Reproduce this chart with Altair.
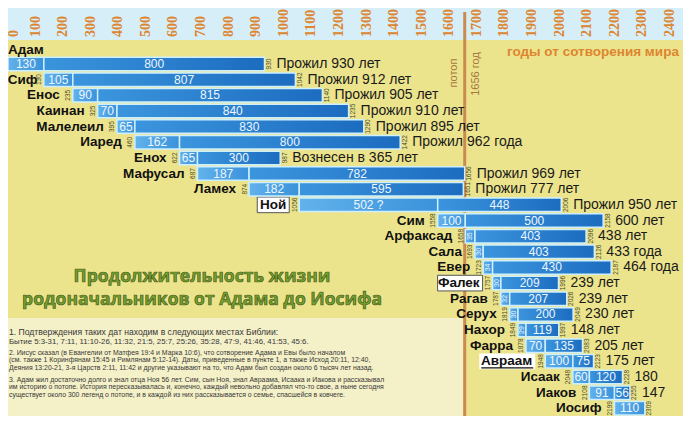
import altair as alt
import pandas as pd

# ---------------- data ----------------
names = ["Адам", "Сиф", "Енос", "Каинан", "Малелеил", "Иаред", "Енох", "Мафусал",
         "Ламех", "Ной", "Сим", "Арфаксад", "Сала", "Евер", "Фалек", "Рагав",
         "Серух", "Нахор", "Фарра", "Авраам", "Исаак", "Иаков", "Иосиф"]
births = [0, 130, 235, 325, 395, 460, 622, 687, 874, 1056, 1558, 1658, 1693,
          1723, 1757, 1787, 1819, 1849, 1878, 1948, 2048, 2108, 2199]
first_years = [130, 105, 90, 70, 65, 162, 65, 187, 182, 502, 100, 35, 30, 34,
               30, 32, 30, 29, 70, 100, 60, 91, 110]
rest_years = [800, 807, 815, 840, 830, 800, 300, 782, 595, 448, 500, 403, 403,
              430, 209, 207, 200, 119, 135, 75, 120, 56, 0]
first_labels = ["130", "105", "90", "70", "65", "162", "65", "187", "182", "502 ?",
                "100", "35", "30", "34", "30", "32", "30", "29", "70", "100",
                "60", "91", "110"]
lived_labels = ["Прожил 930 лет", "Прожил 912 лет", "Прожил 905 лет",
                "Прожил 910 лет", "Прожил 895 лет", "Прожил 962 года",
                "Вознесен в 365 лет", "Прожил 969 лет", "Прожил 777 лет",
                "Прожил 950 лет", "600 лет", "438 лет", "433 года", "464 года",
                "239 лет", "239 лет", "230 лет", "148 лет", "205 лет", "175 лет",
                "180", "147", ""]
highlighted = ["Ной", "Фалек", "Авраам"]
tick_years = list(range(0, 2401, 100))
flood_year = 1656
axis_title = "годы от сотворения мира"
title_lines = ["Продолжительность жизни", "родоначальников от Адама до Иосифа"]
note_lines = [
    "1. Подтверждения таких дат находим в следующих местах Библии:",
    "    Бытие 5:3-31, 7:11, 11:10-26, 11:32, 21:5, 25:7, 25:26, 35:28, 47:9, 41:46, 41:53, 45:6.",
    "2. Иисус сказал (в Евангелии от Матфея 19:4 и Марка 10:6), что сотворение Адама и Евы было началом",
    "    (см. также 1 Коринфянам 15:45 и Римлянам 5:12-14). Даты, приведенные в пункте 1, а также Исход 20:11, 12:40,",
    "    Деяния 13:20-21, 3-я Царств 2:11, 11:42 и другие указывают на то, что Адам был создан около 6 тысяч лет назад.",
    "3. Адам жил достаточно долго и знал отца Ноя 56 лет. Сим, сын Ноя, знал Авраама, Исаака и Иакова и рассказывал",
    "    им историю о потопе. История пересказывалась и, конечно, каждый невольно добавлял что-то свое, а ныне сегодня",
    "    существует около 300 легенд о потопе, и в каждой из них рассказывается о семье, спасшейся в ковчеге.",
]

# ---------------- layout ----------------
W, H = 675, 408
X_MAX = 2447.4
YPP = X_MAX / W          # years per pixel
ROW0, ROWH = 56.0, 15.65
xs = alt.Scale(domain=[0, X_MAX], nice=False, zero=False)
ys = alt.Scale(domain=[-ROW0 / ROWH, (H - ROW0) / ROWH], reverse=True, nice=False, zero=False)

BG = "#ECE48C"
ORANGE = "#DD8530"
FONT = "Liberation Sans"
NAME_GAP = 13      # px between name and bar
NAME_FS = 13.5
CHAR_W = 9.9       # approx px per bold name character (for left-edge clamp)

rows = []
for i, n in enumerate(names):
    b = births[i]
    s1 = b + first_years[i]
    d = s1 + rest_years[i]
    name_x = max(b - NAME_GAP * YPP, (len(n) * CHAR_W) * YPP)
    rows.append(dict(name=n, row=i, top=i - 0.43, bot=i + 0.43, birth=b, s1=s1,
                     death=d, mid1=(b + s1) / 2, mid2=(s1 + d) / 2,
                     lab1=first_labels[i], lab2=str(rest_years[i]),
                     lived=lived_labels[i], rest=rest_years[i],
                     narrow=first_years[i] < 45, name_x=name_x,
                     bstr=str(b), dstr=str(d)))
df = pd.DataFrame(rows)

X = lambda f: alt.X(f, type="quantitative", scale=xs, axis=None)
Y = lambda f: alt.Y(f, type="quantitative", scale=ys, axis=None)

one = pd.DataFrame({"k": [0]})

header = alt.Chart(one).mark_rect(color="#D6EEF7").encode(
    x=alt.value(0), x2=alt.value(W), y=alt.value(0), y2=alt.value(32))
notes_box = alt.Chart(one).mark_rect(color="#F4F0C8").encode(
    x=alt.value(0), x2=alt.value(455), y=alt.value(310), y2=alt.value(H))

flood = alt.Chart(pd.DataFrame({"yr": [flood_year]})).mark_rule(
    color="#C98B4F", strokeWidth=3).encode(x=X("yr"), y=alt.value(4), y2=alt.value(H))
flood_lab = alt.Chart(pd.DataFrame({"yr": [flood_year], "t": ["потоп"]})).mark_text(
    angle=270, fontSize=11, font=FONT, color="#A8773F", dy=-11).encode(
    x=X("yr"), y=alt.value(65), text="t:N")
flood_lab2 = alt.Chart(pd.DataFrame({"yr": [flood_year], "t": [f"{flood_year} год"]})).mark_text(
    angle=270, fontSize=11, font=FONT, color="#A8773F", dy=11).encode(
    x=X("yr"), y=alt.value(66), text="t:N")

tdf_ticks = pd.DataFrame({"yr": tick_years})
tdf_ticks["tx"] = tdf_ticks["yr"].clip(lower=6 * YPP)
ticks = alt.Chart(tdf_ticks).mark_text(
    angle=270, align="left", baseline="middle", fontSize=14, fontWeight="bold",
    font="Liberation Serif", color=ORANGE).encode(
    x=X("tx"), y=alt.value(29), text=alt.Text("yr:Q", format="d"))
axis_lab = alt.Chart(pd.DataFrame({"t": [axis_title]})).mark_text(
    align="left", baseline="middle", fontSize=13.5, fontWeight="bold", font=FONT,
    color=ORANGE).encode(x=alt.value(499), y=alt.value(44), text="t:N")

grad1 = alt.Gradient(gradient="linear", x1=0, x2=1, y1=0, y2=0,
                     stops=[alt.GradientStop(color="#62B2EC", offset=0),
                            alt.GradientStop(color="#3A92DA", offset=1)])
grad2 = alt.Gradient(gradient="linear", x1=0, x2=1, y1=0, y2=0,
                     stops=[alt.GradientStop(color="#3B95DD", offset=0),
                            alt.GradientStop(color="#1C6CC0", offset=1)])

seg1 = alt.Chart(df).mark_rect(color=grad1, stroke="#CDEFFF", strokeWidth=1.5).encode(
    x=X("birth"), x2="s1:Q", y=Y("top"), y2="bot:Q")
seg2 = alt.Chart(df).transform_filter("datum.rest > 0").mark_rect(
    color=grad2, stroke="#CDEFFF", strokeWidth=1.5).encode(
    x=X("s1"), x2="death:Q", y=Y("top"), y2="bot:Q")

lab1 = alt.Chart(df).transform_filter("!datum.narrow").mark_text(
    fontSize=12, font=FONT, color="#EEF7FF").encode(x=X("mid1"), y=Y("row"), text="lab1:N")
lab1n = alt.Chart(df).transform_filter("datum.narrow").mark_text(
    fontSize=7, font=FONT, color="#EEF7FF", angle=270).encode(x=X("mid1"), y=Y("row"), text="lab1:N")
lab2 = alt.Chart(df).transform_filter("datum.rest > 0").mark_text(
    fontSize=12, font=FONT, color="#EEF7FF").encode(x=X("mid2"), y=Y("row"), text="lab2:N")

# highlight boxes behind a few names
hl_w = {"Ной": 32, "Фалек": 45, "Авраам": 56}
hl = df[df["name"].isin(highlighted)].copy()
hl["bx1"] = [b - (10 + hl_w[n]) * YPP for b, n in zip(hl["birth"], hl["name"])]
hl["bx2"] = hl["birth"] - 10 * YPP
hl["btop"] = hl["row"] - 0.5
hl["bbot"] = hl["row"] + 0.5
hl["stroke"] = [n != "Авраам" for n in hl["name"]]
hl_boxes = alt.Chart(hl).mark_rect(fill="#FFFFFF", stroke="#555555", strokeWidth=1).encode(
    x=X("bx1"), x2="bx2:Q", y=Y("btop"), y2="bbot:Q",
    strokeOpacity=alt.condition("datum.stroke", alt.value(1), alt.value(0)))
ul = hl[hl["name"] == "Авраам"].copy()
ul["uy"] = ul["row"] + 0.42
ul["ux1"] = ul["bx1"] + 2 * YPP
ul["ux2"] = ul["bx2"] - 2 * YPP
underline = alt.Chart(ul).mark_rule(color="#111111", strokeWidth=1.3).encode(
    x=X("ux1"), x2="ux2:Q", y=Y("uy"))

names_l = alt.Chart(df).transform_filter("datum.row > 0").mark_text(
    align="right", baseline="middle", fontSize=NAME_FS, fontWeight="bold",
    font=FONT, color="#111111").encode(x=X("name_x"), y=Y("row"), text="name:N")
adam = alt.Chart(df).transform_filter("datum.row == 0").transform_calculate(
    yy="-0.88").mark_text(
    align="left", baseline="middle", fontSize=NAME_FS, fontWeight="bold",
    font=FONT, color="#111111", dx=0).encode(
    x=X("birth"), y=Y("yy"), text="name:N")

blab = alt.Chart(df).transform_filter("datum.row > 0").mark_text(
    angle=270, fontSize=6.5, font=FONT, color="#4A4A2A", dy=-4.5).encode(
    x=X("birth"), y=Y("row"), text="bstr:N")
dlab = alt.Chart(df).mark_text(
    angle=270, fontSize=6.5, font=FONT, color="#4A4A2A", dy=4.5).encode(
    x=X("death"), y=Y("row"), text="dstr:N")
lived = alt.Chart(df).transform_filter("datum.lived != ''").mark_text(
    align="left", baseline="middle", dx=12, fontSize=14, font=FONT,
    color="#1A1A1A").encode(x=X("death"), y=Y("row"), text="lived:N")

tdf = pd.DataFrame({"t": title_lines, "py": [269, 292]})
title = alt.Chart(tdf).mark_text(
    fontSize=17.5, fontWeight="bold", font="Open Sans", color="#72A02E",
    stroke="#34420F", strokeWidth=0.7, strokeOpacity=0.8).encode(
    x=alt.value(194), y=alt.Y("py:Q", scale=None), text="t:N")

ndf = pd.DataFrame({"t": note_lines})
ndf["py"] = [324, 333.5, 344.5, 352, 359.5, 371.5, 379, 386.5]
ndf["fs"] = [8.6, 7.8, 6.9, 6.9, 6.9, 6.9, 6.9, 6.9]
notes = alt.Chart(ndf).mark_text(
    align="left", baseline="middle", font=FONT, color="#383838").encode(
    x=alt.value(1), y=alt.Y("py:Q", scale=None), text="t:N",
    size=alt.Size("fs:Q", scale=None, legend=None))

chart = alt.layer(
    header, notes_box, flood, flood_lab, flood_lab2, ticks, axis_lab,
    hl_boxes, underline, seg1, seg2, lab1, lab1n, lab2,
    names_l, adam, blab, dlab, lived, title, notes
).properties(width=W, height=H, padding=0, autosize="none").configure(
    background=BG).configure_view(strokeWidth=0, fill=BG)

chart.save("out.html", embed_options={"renderer": "svg", "actions": False})
